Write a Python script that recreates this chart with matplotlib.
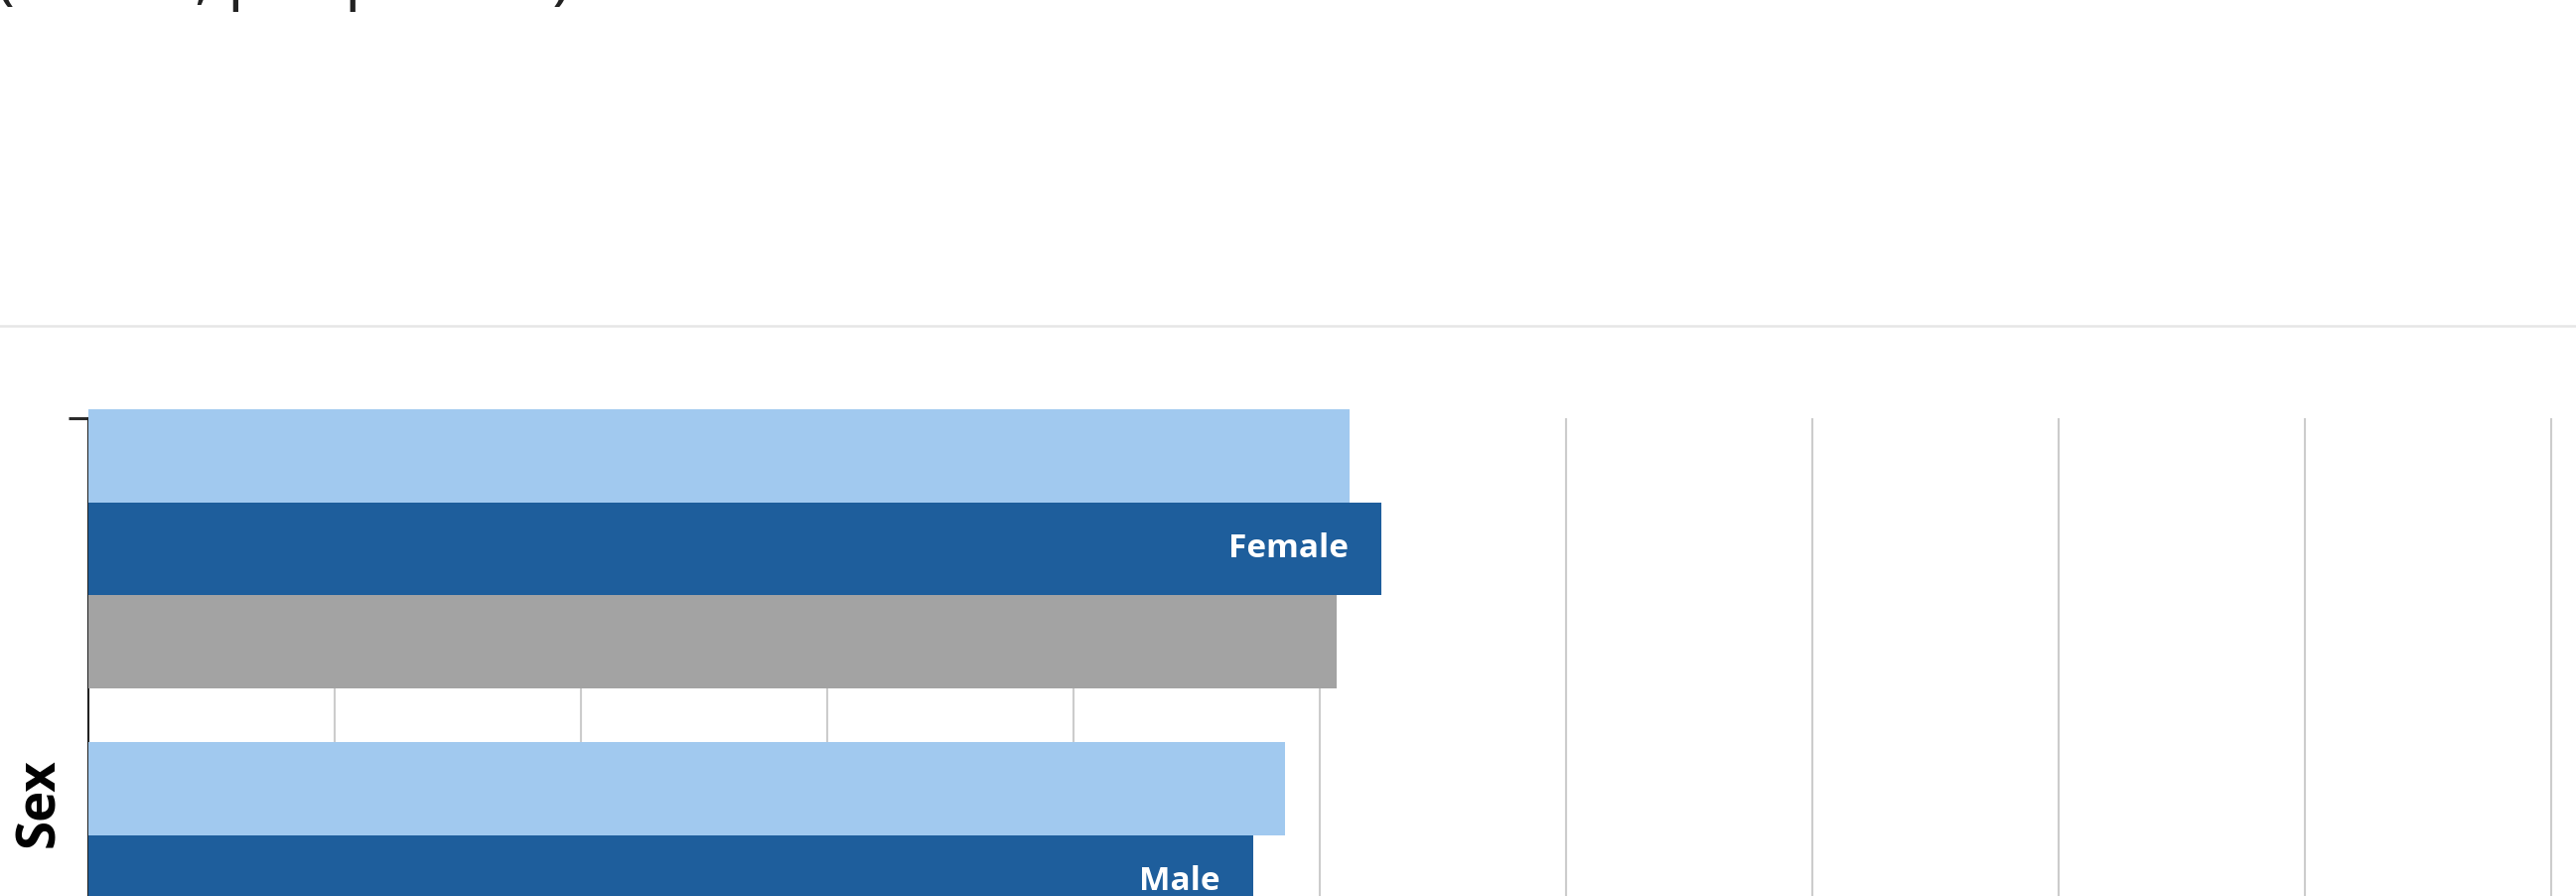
import matplotlib
matplotlib.use("Agg")
import matplotlib.pyplot as plt
from matplotlib.lines import Line2D
import numpy as np

# data (x grid step = 1 unit)
categories = ["Female", "Male"]
light_vals = [5.12, 4.86]
dark_vals = [5.25, 4.73]
gray_vals = [5.07, np.nan]  # male gray bar falls below the visible area

top_text = "(Hours, per person)"
axis_title = "Sex"

light_col = "#A1C9EF"
dark_col = "#1E5E9C"
gray_col = "#A3A3A3"
grid_col = "#CCCCCC"

W, H, DPI = 2594, 902, 100
plt.rcParams['font.family'] = ['Open Sans', 'DejaVu Sans']

fig = plt.figure(figsize=(W / DPI, H / DPI), dpi=DPI)

# layout in pixels
px_unit_y = 335.0          # distance between category groups
ax_left = 89
ax_top = 421
y_top = (ax_top - 552.5) / px_unit_y   # data value at axes top
y_bot = 1.6
ax_h = (y_bot - y_top) * px_unit_y
ax = fig.add_axes([ax_left / W, (H - ax_top - ax_h) / H,
                   (W - ax_left) / W, ax_h / H])

bh = 0.28
y = np.arange(len(categories))
ax.barh(y - bh, light_vals, height=bh, color=light_col, zorder=3, clip_on=False)
ax.barh(y, dark_vals, height=bh, color=dark_col, zorder=3, clip_on=False)
ax.barh(y + bh, gray_vals, height=bh, color=gray_col, zorder=3, clip_on=False)

for i, cat in enumerate(categories):
    ax.annotate(cat, xy=(dark_vals[i], i), xytext=(-24, 0),
                textcoords="offset points", ha="right", va="center",
                color="white", fontsize=24, fontweight="bold", zorder=4)

ax.set_xlim(0, (W - ax_left) / 248.0)
ax.set_ylim(y_bot, y_top)
ax.set_xticks(np.arange(1, 11))
ax.set_xticklabels([])
ax.tick_params(axis="x", length=0)
ax.set_yticks([y_top])
ax.set_yticklabels([])
ax.tick_params(axis="y", length=14.4, width=2.2, color="#2B2B2B")
ax.grid(axis="x", color=grid_col, linewidth=1.5, zorder=0)
ax.set_axisbelow(True)
for s in ["top", "right", "bottom"]:
    ax.spines[s].set_visible(False)
ax.spines["left"].set_color("#222222")
ax.spines["left"].set_linewidth(1.5)

fig.text(40 / W, (H - 808) / H, axis_title, rotation=90, ha="center", va="center",
         fontsize=38, fontweight="bold", color="black")

fig.text(-4 / W, 1 + 3 / H, top_text, ha="left", va="baseline",
         fontsize=46, color="#222222")

fig.add_artist(Line2D([0, 1], [(H - 327.5) / H] * 2, color="#E6E6E6",
                      linewidth=1.8, transform=fig.transFigure))

fig.savefig("out.png", dpi=DPI)
